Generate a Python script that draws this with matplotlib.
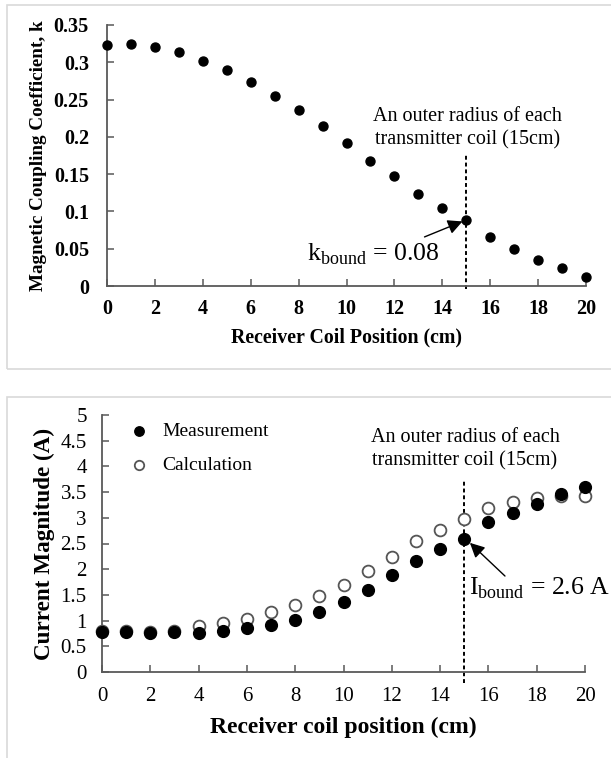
import matplotlib
matplotlib.use("Agg")
import matplotlib.pyplot as plt
from matplotlib.patches import Rectangle

plt.rcParams['font.family'] = ['Liberation Serif', 'DejaVu Serif']
plt.rcParams['mathtext.fontset'] = 'custom'
plt.rcParams['mathtext.rm'] = 'Liberation Serif'

# top panel: coupling coefficient
pos = list(range(21))
k_vals = [0.323, 0.324, 0.321, 0.314, 0.302, 0.290, 0.274, 0.255, 0.236, 0.214,
          0.192, 0.168, 0.147, 0.124, 0.105, 0.088, 0.066, 0.049, 0.035, 0.024, 0.012]

# bottom panel: current magnitude
meas = [0.78, 0.78, 0.75, 0.78, 0.76, 0.80, 0.86, 0.92, 1.02, 1.17, 1.37,
        1.59, 1.89, 2.16, 2.40, 2.58, 2.92, 3.09, 3.26, 3.47, 3.60]
calc = [0.80, 0.79, 0.78, 0.80, 0.89, 0.95, 1.04, 1.16, 1.30, 1.47, 1.69,
        1.96, 2.23, 2.55, 2.77, 2.97, 3.20, 3.30, 3.38, 3.42, 3.43]

k_ticks = [0, 0.05, 0.1, 0.15, 0.2, 0.25, 0.3, 0.35]
k_ticklabels = ['0', '0.05', '0.1', '0.15', '0.2', '0.25', '0.3', '0.35']
i_ticks = [0, 0.5, 1, 1.5, 2, 2.5, 3, 3.5, 4, 4.5, 5]
i_ticklabels = ['0', '0.5', '1', '1.5', '2', '2.5', '3', '3.5', '4', '4.5', '5']
x_ticks = list(range(0, 21, 2))

fig = plt.figure(figsize=(6.11, 7.58), dpi=100)

# light panel frames
fig.add_artist(Rectangle((7 / 611, 1 - 369 / 758), 1.0, (369 - 5) / 758,
                         transform=fig.transFigure, fill=False, ec='#d9d9d9', lw=1.2))
fig.add_artist(Rectangle((7 / 611, -0.05), 1.0, 0.05 + 1 - 397 / 758,
                         transform=fig.transFigure, fill=False, ec='#d9d9d9', lw=1.2))

spine_col = '#595959'


def style(ax, size, xpad, ypad):
    for s in ['top', 'right']:
        ax.spines[s].set_visible(False)
    for s in ['left', 'bottom']:
        ax.spines[s].set_color(spine_col)
        ax.spines[s].set_linewidth(1.3)
    ax.tick_params(direction='in', length=5, width=1.1, color=spine_col, labelsize=size)
    ax.tick_params(axis='x', pad=xpad)
    ax.tick_params(axis='y', pad=ypad)


# ---- top ----
ax1 = fig.add_axes([107 / 611, 1 - 286 / 758, (586 - 107) / 611, (286 - 25) / 758])
ax1.scatter(pos, k_vals, s=42, color='black', zorder=3, clip_on=False)
ax1.set_xlim(0, 20)
ax1.set_ylim(0, 0.35)
ax1.set_xticks(x_ticks)
ax1.set_yticks(k_ticks)
ax1.set_yticklabels(k_ticklabels)
style(ax1, 14.5, 9, 13)
for lab in ax1.get_xticklabels() + ax1.get_yticklabels():
    lab.set_fontweight('bold')
ax1.set_xlabel('Receiver Coil Position (cm)', fontsize=14.3, fontweight='bold')
ax1.set_ylabel('Magnetic Coupling Coefficient, k', fontsize=13.8, fontweight='bold')
ax1.xaxis.set_label_coords(0.5, (286 - 337) / 261)
ax1.xaxis.label.set_va('center')
ax1.yaxis.set_label_coords((39 - 107) / 479, 0.5)
ax1.yaxis.label.set_va('center')
ax1.plot([15, 15], [-0.004, 0.176], ls=(0, (2, 1.5)), color='black', lw=1.4, clip_on=False)
ax1.text(15.05, 0.211, 'An outer radius of each\ntransmitter coil (15cm)', ha='center', va='center',
         fontsize=14.5, linespacing=1.3)
ax1.annotate(r'k$_{\rm bound}$ = 0.08', xy=(15, 0.088), xytext=(8.35, 0.043),
             fontsize=18.5, va='center', ha='left')
ax1.annotate('', xy=(14.95, 0.088), xytext=(13.15, 0.0644),
             arrowprops=dict(arrowstyle='-|>', color='black', lw=1.0, mutation_scale=22))

# ---- bottom ----
ax2 = fig.add_axes([102 / 611, 1 - 672 / 758, (585 - 102) / 611, (672 - 415) / 758])
ax2.scatter(pos, calc, s=72, facecolors='white', edgecolors='#555555', linewidths=1.3,
            zorder=3, clip_on=False, label='Calculation')
ax2.scatter(pos, meas, s=72, color='black', zorder=4, clip_on=False, label='Measurement')
ax2.set_xlim(0, 20)
ax2.set_ylim(0, 5)
ax2.set_xticks(x_ticks)
ax2.set_yticks(i_ticks)
ax2.set_yticklabels(i_ticklabels)
style(ax2, 15, 11, 11)
ax2.set_xlabel('Receiver coil position (cm)', fontsize=17, fontweight='bold')
ax2.set_ylabel('Current Magnitude (A)', fontsize=16.7, fontweight='bold')
ax2.xaxis.set_label_coords(0.5, (672 - 727) / 257)
ax2.xaxis.label.set_va('center')
ax2.yaxis.set_label_coords((44 - 102) / 483, 0.5)
ax2.yaxis.label.set_va('center')
ax2.plot([15, 15], [-0.21, 3.74], ls=(0, (2, 1.5)), color='black', lw=1.4, clip_on=False)
ax2.text(15.03, 4.33, 'An outer radius of each\ntransmitter coil (15cm)', ha='center', va='center',
         fontsize=14.5, linespacing=1.3)
ax2.text(15.2, 1.63, r'I$_{\rm bound}$ = 2.6 A', fontsize=18.5, va='center', ha='left')
ax2.annotate('', xy=(15.15, 2.55), xytext=(16.77, 1.83),
             arrowprops=dict(arrowstyle='-|>', color='black', lw=1.0, mutation_scale=22))
h, l = ax2.get_legend_handles_labels()
ax2.legend([h[1], h[0]], [l[1], l[0]], loc='upper left', bbox_to_anchor=(0.0, 1.04),
           frameon=False, fontsize=14, handletextpad=0.2, labelspacing=0.85, scatterpoints=1,
           markerscale=0.8)

fig.savefig('out.png', dpi=100)
